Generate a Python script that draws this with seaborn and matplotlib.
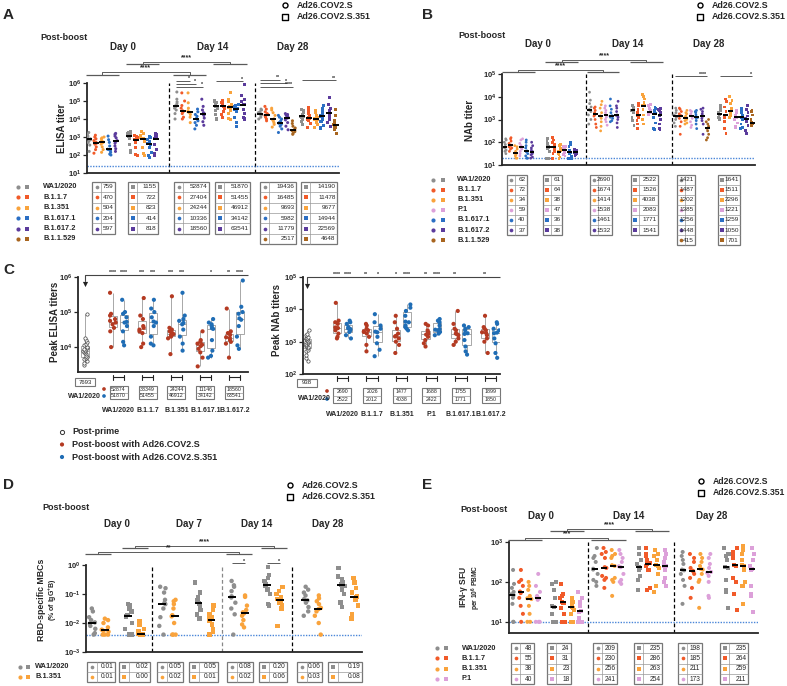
import numpy as np
import pandas as pd
import matplotlib.pyplot as plt
import seaborn as sns
from matplotlib.patches import Rectangle
from matplotlib.ticker import LogLocator, LogFormatterMathtext, NullLocator

# ---------------- data: log10 values per animal, one list per variant ----------------
variants_a = ['WA1/2020', 'B.1.1.7', 'B.1.351', 'B.1.617.1', 'B.1.617.2', 'B.1.1.529']
variants_b = ['WA1/2020', 'B.1.1.7', 'B.1.351', 'P.1', 'B.1.617.1', 'B.1.617.2', 'B.1.1.529']
variants_d = ['WA1/2020', 'B.1.351']
variants_e = ['WA1/2020', 'B.1.1.7', 'B.1.351', 'P.1']

# A: ELISA titers
elisa_d0_S = [[2.2, 2.55, 2.7, 2.8, 2.85, 2.9, 2.95, 3.05, 3.15, 3.25],
              [2.1, 2.3, 2.45, 2.6, 2.65, 2.7, 2.8, 2.9, 3.0, 3.1],
              [2.15, 2.3, 2.45, 2.6, 2.68, 2.72, 2.8, 2.9, 2.95, 3.0],
              [2.0, 2.05, 2.15, 2.25, 2.3, 2.32, 2.5, 2.7, 2.85, 3.05],
              [2.2, 2.35, 2.5, 2.65, 2.75, 2.8, 2.95, 3.05, 3.15, 3.2]]
elisa_d0_S351 = [[2.15, 2.25, 2.6, 2.9, 3.05, 3.08, 3.15, 3.2, 3.25, 3.3],
                 [1.95, 2.05, 2.4, 2.7, 2.85, 2.87, 2.95, 3.0, 3.05, 3.1],
                 [1.95, 2.1, 2.4, 2.75, 2.9, 2.93, 3.0, 3.1, 3.2, 3.28],
                 [1.85, 1.95, 2.15, 2.4, 2.6, 2.64, 2.75, 2.85, 2.95, 3.05],
                 [1.95, 2.1, 2.3, 2.6, 2.9, 2.92, 3.0, 3.1, 3.15, 3.2]]
elisa_d14_S = [[4.0, 4.3, 4.5, 4.6, 4.7, 4.74, 4.85, 4.95, 5.1, 5.5],
               [4.0, 4.1, 4.3, 4.4, 4.42, 4.46, 4.6, 4.75, 5.0, 5.45],
               [3.8, 4.1, 4.25, 4.35, 4.37, 4.4, 4.45, 4.6, 4.9, 5.45],
               [3.45, 3.65, 3.8, 3.9, 4.0, 4.03, 4.15, 4.25, 4.4, 4.55],
               [3.65, 3.85, 4.05, 4.2, 4.25, 4.29, 4.35, 4.5, 4.7, 5.1]]
elisa_d14_S351 = [[4.0, 4.25, 4.45, 4.6, 4.7, 4.72, 4.8, 4.9, 5.0, 5.05],
                  [4.1, 4.25, 4.4, 4.6, 4.7, 4.72, 4.8, 4.9, 4.95, 5.0],
                  [3.95, 4.05, 4.3, 4.5, 4.65, 4.69, 4.8, 4.95, 5.1, 5.45],
                  [3.6, 3.8, 4.1, 4.4, 4.52, 4.54, 4.6, 4.7, 4.75, 4.8],
                  [4.0, 4.1, 4.3, 4.55, 4.78, 4.82, 4.95, 5.1, 5.3, 5.9]]
elisa_d28_S = [[4.0, 4.1, 4.2, 4.25, 4.28, 4.3, 4.35, 4.4, 4.5, 4.55],
               [3.9, 4.0, 4.1, 4.15, 4.2, 4.24, 4.3, 4.4, 4.55, 4.7],
               [3.55, 3.7, 3.8, 3.9, 3.97, 4.01, 4.2, 4.35, 4.5, 4.6],
               [3.25, 3.45, 3.6, 3.7, 3.76, 3.8, 3.9, 4.0, 4.1, 4.2],
               [3.4, 3.6, 3.8, 3.95, 4.05, 4.09, 4.15, 4.2, 4.25, 4.3],
               [3.15, 3.2, 3.3, 3.35, 3.38, 3.42, 3.5, 3.6, 3.75, 3.9]]
elisa_d28_S351 = [[3.7, 3.85, 3.95, 4.1, 4.14, 4.16, 4.25, 4.35, 4.45, 4.55],
                  [3.55, 3.75, 3.9, 4.0, 4.05, 4.07, 4.2, 4.3, 4.5, 4.65],
                  [3.55, 3.7, 3.8, 3.9, 3.98, 4.0, 4.1, 4.2, 4.35, 4.45],
                  [3.5, 3.65, 3.85, 4.0, 4.15, 4.19, 4.3, 4.45, 4.6, 4.75],
                  [3.6, 3.8, 4.0, 4.2, 4.33, 4.37, 4.45, 4.6, 4.8, 5.2],
                  [3.2, 3.4, 3.55, 3.6, 3.65, 3.69, 3.75, 3.9, 4.2, 4.55]]
elisa_tab = [[759, 470, 504, 204, 597], [1155, 722, 823, 414, 818],
             [52874, 27404, 24244, 10336, 18560], [51870, 51455, 46912, 34142, 63541],
             [19436, 16485, 9693, 5982, 11779, 2517], [14190, 11478, 9677, 14944, 22569, 4648]]

# B: NAb titers
nab_d0_S = [[1.5, 1.6, 1.65, 1.75, 1.78, 1.8, 1.9, 2.0, 2.1, 2.15],
            [1.6, 1.7, 1.75, 1.8, 1.85, 1.87, 1.95, 2.05, 2.15, 2.2],
            [1.3, 1.3, 1.4, 1.45, 1.52, 1.54, 1.6, 1.7, 1.8, 1.85],
            [1.4, 1.5, 1.6, 1.7, 1.76, 1.78, 1.85, 1.95, 2.1, 2.15],
            [1.3, 1.3, 1.4, 1.5, 1.58, 1.62, 1.75, 1.85, 2.0, 2.1],
            [1.3, 1.35, 1.45, 1.5, 1.55, 1.59, 1.65, 1.75, 1.85, 2.0]]
nab_d0_S351 = [[1.3, 1.3, 1.6, 1.7, 1.78, 1.8, 1.85, 1.95, 2.05, 2.15],
               [1.3, 1.5, 1.6, 1.7, 1.8, 1.82, 1.9, 2.0, 2.1, 2.2],
               [1.3, 1.35, 1.45, 1.5, 1.57, 1.59, 1.65, 1.75, 1.85, 1.9],
               [1.4, 1.45, 1.55, 1.6, 1.66, 1.68, 1.7, 1.75, 1.8, 1.8],
               [1.3, 1.3, 1.4, 1.5, 1.55, 1.57, 1.65, 1.8, 1.9, 2.0],
               [1.4, 1.45, 1.5, 1.55, 1.57, 1.59, 1.6, 1.62, 1.65, 1.7]]
nab_d14_S = [[2.8, 3.0, 3.2, 3.35, 3.42, 3.44, 3.55, 3.7, 3.85, 4.2],
             [2.65, 2.8, 3.0, 3.15, 3.21, 3.23, 3.3, 3.4, 3.5, 3.55],
             [2.5, 2.7, 2.9, 3.05, 3.14, 3.16, 3.3, 3.5, 3.65, 3.8],
             [2.75, 2.9, 3.0, 3.1, 3.18, 3.2, 3.3, 3.4, 3.5, 3.6],
             [2.9, 2.95, 3.05, 3.1, 3.15, 3.17, 3.3, 3.45, 3.6, 3.9],
             [2.65, 2.85, 3.0, 3.1, 3.18, 3.2, 3.35, 3.5, 3.6, 3.8]]
nab_d14_S351 = [[2.75, 2.95, 3.1, 3.3, 3.39, 3.41, 3.45, 3.5, 3.55, 3.6],
                [2.6, 2.8, 2.95, 3.1, 3.17, 3.19, 3.3, 3.45, 3.6, 3.7],
                [2.8, 3.0, 3.2, 3.45, 3.6, 3.62, 3.75, 3.9, 4.0, 4.1],
                [3.2, 3.25, 3.28, 3.3, 3.31, 3.33, 3.4, 3.5, 3.6, 3.65],
                [2.55, 2.6, 2.85, 3.1, 3.24, 3.26, 3.35, 3.4, 3.5, 3.55],
                [2.55, 2.6, 2.8, 3.0, 3.18, 3.2, 3.3, 3.4, 3.45, 3.5]]
nab_d28_S = [[2.7, 2.85, 3.0, 3.1, 3.14, 3.16, 3.2, 3.3, 3.4, 3.5],
             [2.35, 2.7, 2.9, 3.05, 3.16, 3.18, 3.25, 3.35, 3.45, 3.5],
             [2.8, 2.85, 2.95, 3.0, 3.07, 3.09, 3.15, 3.25, 3.3, 3.4],
             [2.65, 2.75, 2.9, 3.05, 3.13, 3.15, 3.2, 3.25, 3.35, 3.4],
             [2.6, 2.8, 2.95, 3.05, 3.09, 3.11, 3.2, 3.3, 3.35, 3.4],
             [2.35, 2.8, 2.95, 3.05, 3.15, 3.17, 3.25, 3.35, 3.45, 3.5],
             [2.1, 2.2, 2.35, 2.5, 2.61, 2.63, 2.7, 2.8, 2.9, 3.0]]
nab_d28_S351 = [[3.0, 3.05, 3.1, 3.15, 3.2, 3.24, 3.3, 3.4, 3.5, 3.6],
                [2.4, 2.6, 2.9, 3.1, 3.17, 3.19, 3.35, 3.55, 3.8, 3.9],
                [3.1, 3.15, 3.2, 3.3, 3.35, 3.37, 3.5, 3.7, 3.85, 4.0],
                [2.65, 2.7, 2.85, 3.0, 3.08, 3.1, 3.2, 3.3, 3.35, 3.4],
                [2.6, 2.65, 2.8, 3.0, 3.09, 3.11, 3.2, 3.3, 3.4, 3.5],
                [2.4, 2.5, 2.75, 2.9, 3.0, 3.04, 3.15, 3.3, 3.45, 3.6],
                [2.75, 2.78, 2.8, 2.82, 2.84, 2.86, 3.0, 3.2, 3.35, 3.4]]
nab_tab = [[62, 72, 34, 59, 40, 37], [61, 64, 38, 47, 36, 38],
           [2690, 1674, 1414, 1538, 1461, 1532], [2522, 1526, 4038, 2083, 1771, 1541],
           [1421, 1487, 1202, 1385, 1256, 1448, 415], [1641, 1511, 2296, 1221, 1259, 1050, 701]]

# C: peak titers (post-prime, post-boost S, post-boost S.351)
peak_elisa_names = ['WA1/2020', 'B.1.1.7', 'B.1.351', 'B.1.617.1', 'B.1.617.2']
peak_elisa_prime = [3.5, 3.55, 3.6, 3.65, 3.7, 3.72, 3.75, 3.8, 3.82, 3.85, 3.88,
                    3.9, 3.92, 3.95, 3.98, 4.0, 4.05, 4.1, 4.15, 4.2, 4.25, 4.95]
peak_elisa_S = [[4.0, 4.45, 4.55, 4.65, 4.7, 4.75, 4.8, 4.9, 4.95, 5.55],
                [4.0, 4.1, 4.4, 4.45, 4.5, 4.55, 4.6, 4.8, 4.9, 5.4],
                [3.8, 4.25, 4.3, 4.35, 4.37, 4.4, 4.45, 4.5, 4.55, 5.45],
                [3.45, 3.7, 3.85, 3.95, 4.03, 4.07, 4.1, 4.15, 4.2, 4.45],
                [3.7, 4.1, 4.15, 4.2, 4.26, 4.28, 4.35, 4.4, 4.45, 5.1]]
peak_elisa_S351 = [[4.05, 4.15, 4.45, 4.6, 4.7, 4.72, 4.85, 4.95, 5.0, 5.35],
                   [4.05, 4.1, 4.3, 4.6, 4.7, 4.73, 4.85, 5.0, 5.1, 5.35],
                   [3.9, 4.1, 4.3, 4.5, 4.65, 4.69, 4.75, 4.8, 4.9, 5.55],
                   [3.7, 3.75, 3.9, 4.2, 4.52, 4.54, 4.6, 4.65, 4.7, 4.8],
                   [3.95, 4.05, 4.3, 4.6, 4.78, 4.82, 4.95, 5.0, 5.15, 5.9]]
peak_elisa_tab_S = [52874, 33349, 24244, 11146, 18560]
peak_elisa_tab_S351 = [51870, 51455, 46912, 34142, 63541]
peak_elisa_tab_prime = 7693
peak_elisa_stars = [('****', '****'), ('***', '***'), ('***', '***'), ('', '*'), ('**', '****')]

peak_nab_names = ['WA1/2020', 'B.1.1.7', 'B.1.351', 'P.1', 'B.1.617.1', 'B.1.617.2']
peak_nab_prime = [2.4, 2.5, 2.6, 2.7, 2.75, 2.8, 2.85, 2.88, 2.9, 2.93, 2.95,
                  2.98, 3.0, 3.03, 3.05, 3.08, 3.1, 3.12, 3.15, 3.2, 3.25, 3.35]
peak_nab_S = [[3.1, 3.15, 3.25, 3.35, 3.42, 3.44, 3.55, 3.6, 3.65, 4.2],
              [2.7, 2.9, 3.15, 3.25, 3.3, 3.32, 3.35, 3.4, 3.5, 3.55],
              [2.65, 2.9, 3.0, 3.1, 3.16, 3.18, 3.25, 3.4, 3.6, 3.8],
              [2.85, 2.95, 3.05, 3.15, 3.22, 3.24, 3.3, 3.35, 3.5, 3.55],
              [2.9, 3.0, 3.1, 3.2, 3.23, 3.25, 3.35, 3.4, 3.55, 3.95],
              [2.65, 3.0, 3.1, 3.2, 3.27, 3.29, 3.35, 3.4, 3.45, 3.8]]
peak_nab_S351 = [[3.1, 3.2, 3.3, 3.35, 3.39, 3.41, 3.45, 3.55, 3.6, 3.65],
                 [2.55, 2.75, 2.95, 3.15, 3.29, 3.31, 3.4, 3.5, 3.6, 3.85],
                 [3.35, 3.4, 3.45, 3.5, 3.6, 3.62, 3.8, 3.95, 4.05, 4.15],
                 [3.2, 3.25, 3.3, 3.35, 3.37, 3.39, 3.5, 3.6, 3.65, 3.7],
                 [2.6, 2.7, 2.85, 3.05, 3.24, 3.26, 3.35, 3.4, 3.45, 3.5],
                 [2.5, 2.65, 2.95, 3.1, 3.26, 3.28, 3.35, 3.4, 3.55, 3.6]]
peak_nab_tab_S = [2690, 2026, 1477, 1688, 1755, 1899]
peak_nab_tab_S351 = [2522, 2012, 4038, 2422, 1771, 1850]
peak_nab_tab_prime = 938
peak_nab_stars = [('****', '****'), ('**', '*'), ('*', '****'), ('**', '****'), ('**', ''), ('**', '')]

# D: RBD-specific memory B cells (% of IgG+ B), log10
mbc_d0_S = [[-2.4, -2.35, -2.2, -2.1, -2.02, -1.98, -1.9, -1.8, -1.6, -1.5],
            [-2.4, -2.4, -2.4, -2.3, -2.27, -2.23, -2.15, -2.0, -1.9, -1.85]]
mbc_d0_S351 = [[-2.4, -2.4, -2.2, -2.0, -1.77, -1.73, -1.6, -1.5, -1.4, -1.35],
               [-2.4, -2.4, -2.4, -2.4, -2.38, -2.36, -2.3, -2.2, -2.05, -1.95]]
mbc_d7_S = [[-2.4, -2.1, -1.8, -1.5, -1.35, -1.31, -1.2, -0.95, -0.8, -0.75],
            [-2.4, -2.4, -2.4, -2.0, -1.77, -1.73, -1.5, -1.35, -1.25, -1.2]]
mbc_d7_S351 = [[-1.85, -1.7, -1.55, -1.4, -1.32, -1.28, -1.2, -1.1, -0.95, -0.6],
               [-2.4, -2.3, -2.2, -2.05, -1.92, -1.88, -1.8, -1.7, -1.55, -1.4]]
mbc_d14_S = [[-2.4, -1.7, -1.5, -1.3, -1.12, -1.08, -0.9, -0.75, -0.7, -0.55],
             [-2.15, -2.05, -1.9, -1.75, -1.67, -1.63, -1.55, -1.4, -1.1, -1.05]]
mbc_d14_S351 = [[-1.4, -1.35, -1.0, -0.85, -0.72, -0.68, -0.55, -0.45, -0.35, -0.05],
                [-2.1, -1.5, -1.4, -1.3, -1.22, -1.18, -1.1, -1.0, -0.9, -0.75]]
mbc_d28_S = [[-1.75, -1.6, -1.45, -1.3, -1.22, -1.18, -1.05, -0.95, -0.85, -0.75],
             [-2.4, -2.0, -1.75, -1.6, -1.52, -1.48, -1.35, -1.25, -1.15, -1.05]]
mbc_d28_S351 = [[-1.45, -1.3, -1.0, -0.85, -0.72, -0.68, -0.6, -0.5, -0.4, -0.1],
                [-1.85, -1.7, -1.4, -1.2, -1.12, -1.08, -0.95, -0.8, -0.6, -0.45]]
mbc_tab = [['0.01', '0.01'], ['0.02', '0.00'], ['0.05', '0.02'], ['0.05', '0.01'],
           ['0.08', '0.02'], ['0.20', '0.06'], ['0.06', '0.03'], ['0.19', '0.08']]

# E: IFN-gamma ELISPOT, log10 SFU per 1e6 PBMC
sfu_d0_S = [[1.0, 1.0, 1.45, 1.6, 1.67, 1.69, 1.75, 1.85, 1.95, 2.3],
            [1.0, 1.2, 1.4, 1.6, 1.72, 1.76, 1.9, 2.0, 2.05, 2.3],
            [1.0, 1.0, 1.2, 1.4, 1.57, 1.59, 1.65, 1.8, 1.9, 2.0],
            [1.0, 1.0, 1.0, 1.55, 1.59, 1.61, 1.65, 1.75, 1.9, 2.2]]
sfu_d0_S351 = [[1.0, 1.0, 1.0, 1.2, 1.37, 1.39, 1.6, 1.8, 1.95, 2.0],
               [1.0, 1.0, 1.2, 1.35, 1.48, 1.5, 1.6, 1.65, 1.7, 1.95],
               [1.0, 1.0, 1.2, 1.3, 1.35, 1.37, 1.45, 1.5, 1.55, 1.6],
               [1.0, 1.0, 1.0, 1.1, 1.25, 1.27, 1.4, 1.5, 1.6, 1.75]]
sfu_d14_S = [[1.9, 2.0, 2.05, 2.2, 2.31, 2.33, 2.5, 2.6, 2.65, 2.85],
             [1.85, 2.05, 2.1, 2.15, 2.35, 2.37, 2.6, 2.7, 2.75, 2.85],
             [1.65, 2.0, 2.05, 2.1, 2.4, 2.42, 2.6, 2.65, 2.7, 2.8],
             [1.95, 2.0, 2.05, 2.2, 2.37, 2.39, 2.5, 2.6, 2.7, 2.8]]
sfu_d14_S351 = [[1.8, 2.05, 2.15, 2.3, 2.36, 2.38, 2.45, 2.55, 2.7, 2.85],
                [1.8, 1.85, 2.3, 2.4, 2.45, 2.47, 2.55, 2.65, 2.7, 2.85],
                [1.75, 1.9, 2.2, 2.35, 2.41, 2.43, 2.55, 2.65, 2.7, 2.8],
                [1.9, 2.0, 2.1, 2.3, 2.39, 2.41, 2.5, 2.6, 2.7, 2.8]]
sfu_d28_S = [[1.45, 1.9, 2.05, 2.2, 2.29, 2.31, 2.45, 2.55, 2.65, 2.75],
             [1.6, 1.85, 2.1, 2.2, 2.26, 2.28, 2.35, 2.5, 2.6, 2.7],
             [1.35, 2.0, 2.05, 2.2, 2.31, 2.33, 2.4, 2.5, 2.6, 2.7],
             [1.6, 1.65, 2.0, 2.15, 2.23, 2.25, 2.35, 2.45, 2.6, 2.7]]
sfu_d28_S351 = [[1.35, 1.75, 1.8, 2.05, 2.36, 2.38, 2.55, 2.65, 2.7, 2.85],
                [1.3, 1.7, 2.0, 2.1, 2.41, 2.43, 2.6, 2.7, 2.75, 2.85],
                [1.45, 1.9, 2.0, 2.3, 2.4, 2.42, 2.55, 2.7, 2.8, 2.9],
                [1.25, 1.65, 1.7, 1.9, 2.31, 2.33, 2.4, 2.55, 2.7, 2.85]]
sfu_tab = [[48, 55, 38, 40], [24, 31, 23, 18], [209, 230, 256, 241],
           [235, 286, 263, 254], [198, 185, 211, 173], [235, 264, 259, 211]]

pal = {'WA1/2020': '#8e8e8e', 'B.1.1.7': '#f15a29', 'B.1.351': '#f9a33c', 'P.1': '#dca0d9',
       'B.1.617.1': '#2b6fc4', 'B.1.617.2': '#5b3b9c', 'B.1.1.529': '#a8651f'}
boost_pal = {'S': '#b43a22', 'S351': '#1f6db5'}
LINE = '#5a5a5a'

# ---------------- figure ----------------
sns.set_style('ticks')
plt.rcParams['font.family'] = ['Liberation Sans', 'DejaVu Sans']
plt.rcParams['font.weight'] = 'bold'
plt.rcParams['mathtext.fontset'] = 'custom'
plt.rcParams['mathtext.rm'] = 'Liberation Sans:bold'
plt.rcParams['mathtext.it'] = 'Liberation Sans:bold'
plt.rcParams['mathtext.default'] = 'rm'
np.random.seed(3)

W, H = 787, 686
fig = plt.figure(figsize=(W / 100, H / 100), dpi=100)
ov = fig.add_axes([0, 0, 1, 1], zorder=10)
ov.set_xlim(0, W)
ov.set_ylim(H, 0)
ov.axis('off')


def make_ax(l, t, r, b):
    ax = fig.add_axes([l / W, 1 - b / H, (r - l) / W, (b - t) / H])
    ax.set_yscale('log')
    return ax


def style(ax, xlim, ylim):
    ax.set_xlim(*xlim)
    ax.set_ylim(*ylim)
    ax.yaxis.set_major_locator(LogLocator(base=10, numticks=10))
    ax.yaxis.set_major_formatter(LogFormatterMathtext())
    ax.yaxis.set_minor_locator(NullLocator())
    ax.set_xticks([])
    ax.set_xlabel('')
    ax.set_ylabel('')
    ax.spines[['top', 'right']].set_visible(False)
    ax.spines[['left', 'bottom']].set_linewidth(1.3)
    ax.tick_params(axis='y', labelsize=5.5, length=3, width=0.9, pad=1)
    ax.patch.set_alpha(0)


def px_x(ax, x):
    return ax.transData.transform((x, ax.get_ylim()[0]))[0]


def txt(x, y, s, size=6, ha='left', va='center', **kw):
    kw.setdefault('fontweight', 'bold')
    ov.text(x, y, s, fontsize=size, ha=ha, va=va, **kw)


def hl(x0, x1, y, color=LINE, lw=0.7):
    ov.plot([x0, x1], [y, y], color=color, lw=lw, solid_capstyle='butt')


def dot_panel(ax, names, blocks, starts, size, barw, jit):
    recs = []
    for (lists, mk), st in zip(blocks, starts):
        for i, vals in enumerate(lists):
            recs += [(st + i, 10 ** v, names[i], mk) for v in vals]
    df = pd.DataFrame(recs, columns=['pos', 'val', 'variant', 'mk'])
    for mk in ['o', 's']:
        sns.stripplot(data=df[df.mk == mk], x='pos', y='val', hue='variant', palette=pal,
                      native_scale=True, jitter=jit, size=size, marker=mk, linewidth=0,
                      legend=False, ax=ax, zorder=3)
    med = df.groupby('pos')['val'].apply(lambda s: 10 ** np.median(np.log10(s)))
    ax.hlines(med.values, med.index - barw, med.index + barw, color='k', lw=1.4, zorder=5)


def table(x0, x1, top, rh, nums, cols, mk, cell=8, size=4.6):
    n = len(nums)
    ov.add_patch(Rectangle((x0, top), x1 - x0, rh * n, fill=False, ec='#777', lw=0.9))
    ov.plot([x0 + cell] * 2, [top, top + rh * n], color='#999', lw=0.5)
    for i in range(1, n):
        hl(x0, x1, top + rh * i, '#999', 0.5)
    for i, (num, c) in enumerate(zip(nums, cols)):
        yc = top + rh * (i + 0.5)
        ov.scatter(x0 + cell / 2, yc, marker=mk, s=7, color=c, lw=0)
        ov.text(x1 - 1.5, yc, str(num), fontsize=size, ha='right', va='center', fontweight='normal')


def block_ext(st, n):
    return (st - 0.5, st + n - 0.5)


def bracket(ax, g1, g2, ybar, yconn, label):
    a = [px_x(ax, g) for g in g1]
    b = [px_x(ax, g) for g in g2]
    hl(a[0], a[1], ybar, LINE, 0.9)
    hl(b[0], b[1], ybar, LINE, 0.9)
    ca, cb = sum(a) / 2, sum(b) / 2
    ov.plot([ca, ca, cb, cb], [ybar, yconn, yconn, ybar], color=LINE, lw=0.7)
    txt((ca + cb) / 2, yconn - 0.3, label, size=5, ha='center', va='bottom')


def sigline(ax, xa, xb, y, label):
    x0, x1 = px_x(ax, xa), px_x(ax, xb)
    hl(x0, x1, y)
    txt(x1, y + 0.8, label, size=3.8, ha='right', va='bottom')


def vac_legend(x, y, size=6.4):
    ov.scatter(x, y, marker='o', s=13, facecolor='white', edgecolor='k', lw=1)
    ov.scatter(x, y + 11.5, marker='s', s=13, facecolor='white', edgecolor='k', lw=1)
    txt(x + 12, y, 'Ad26.COV2.S', size=size)
    txt(x + 12, y + 11.5, 'Ad26.COV2.S.351', size=size)


def row_legend(xc, xs, xt, y0, dy, names, size=5.3):
    for i, v in enumerate(names):
        y = y0 + dy * i
        ov.scatter(xc, y, marker='o', s=9, color=pal[v], lw=0)
        ov.scatter(xs, y, marker='s', s=9, color=pal[v], lw=0)
        txt(xt, y, v, size=size)


def lod_and_dashes(ax, lod, dashes, dash_cols=None):
    ax.axhline(lod, color='#4a86d8', ls=(0, (1, 1)), lw=1.0, zorder=2)
    for k, x in enumerate(dashes):
        c = dash_cols[k] if dash_cols else 'k'
        ax.axvline(x, color=c, ls=(0, (3, 2)), lw=0.9, zorder=1)


# ---------------- Panel A ----------------
axA = make_ax(87, 83, 339, 173)
starts_a = [0, 6, 13, 19, 25.5, 31.8]
blocks_a = [(elisa_d0_S, 'o'), (elisa_d0_S351, 's'), (elisa_d14_S, 'o'),
            (elisa_d14_S351, 's'), (elisa_d28_S, 'o'), (elisa_d28_S351, 's')]
dot_panel(axA, variants_a, blocks_a, starts_a, 2.2, 0.45, 0.28)
style(axA, (-0.3, 37.3), (10, 1e6))
lod_and_dashes(axA, 25, [11.9, 24.8])
a_tab_x = [(92, 115), (128, 158), (174, 209), (215, 250), (260, 296), (301, 337)]
for (x0, x1), nums, (_, mk) in zip(a_tab_x, elisa_tab, blocks_a):
    table(x0, x1, 181.8, 10.4, nums, [pal[v] for v in variants_a], mk, cell=9)
row_legend(18, 27, 43, 187, 10.4, variants_a)
ext_a = [block_ext(st, len(b[0])) for st, b in zip(starts_a, blocks_a)]
bracket(axA, ext_a[0], ext_a[2], 75, 72, '****')
bracket(axA, ext_a[1], ext_a[3], 64, 61.5, '****')
for k, y in zip([15, 16, 17], [80.5, 83.5, 86.5]):
    sigline(axA, 13, k, y, '*')
sigline(axA, 19, 23, 81, '*')
for k, y, lab in zip([28.5, 29.5, 30.5], [79.5, 83, 86.5], ['**', '*', '****']):
    sigline(axA, 25.5, k, y, lab)
sigline(axA, 31.8, 36.8, 80, '**')
txt(3, 15, 'A', size=11)
vac_legend(285, 5)
txt(40, 38, 'Post-boost', size=6.5)
for x, s in zip([123, 213, 293], ['Day 0', 'Day 14', 'Day 28']):
    txt(x, 47, s, size=7, ha='center')
txt(62, 128, 'ELISA titer', size=7, ha='center', rotation=90)

# ---------------- Panel B ----------------
axB = make_ax(502, 74, 755, 165)
starts_b = [0, 8, 15.7, 23.7, 31.5, 39.8]
blocks_b = [(nab_d0_S, 'o'), (nab_d0_S351, 's'), (nab_d14_S, 'o'),
            (nab_d14_S351, 's'), (nab_d28_S, 'o'), (nab_d28_S351, 's')]
dot_panel(axB, variants_b, blocks_b, starts_b, 2.0, 0.45, 0.26)
style(axB, (-0.55, 46.3), (10, 1e5))
lod_and_dashes(axB, 20, [15.0, 30.9])
b_tab_x = [(507, 527), (543, 562), (590, 612), (631, 658), (677, 695), (718, 740)]
for (x0, x1), nums, (_, mk) in zip(b_tab_x, nab_tab, blocks_b):
    table(x0, x1, 174.5, 10.1, nums, [pal[v] for v in variants_b], mk, cell=8)
row_legend(433, 443, 457, 179.5, 10.1, variants_b)
ext_b = [block_ext(st, len(b[0])) for st, b in zip(starts_b, blocks_b)]
bracket(axB, ext_b[0], ext_b[2], 72, 69.5, '****')
bracket(axB, ext_b[1], ext_b[3], 62, 59.5, '****')
sigline(axB, 31.5, 37.5, 76, '****')
sigline(axB, 39.8, 45.8, 76, '*')
txt(422, 15, 'B', size=11)
vac_legend(700, 5)
txt(458, 36, 'Post-boost', size=6.5)
for x, s in zip([538, 628, 709], ['Day 0', 'Day 14', 'Day 28']):
    txt(x, 44, s, size=7, ha='center')
txt(470, 120, 'NAb titer', size=7, ha='center', rotation=90)


# ---------------- Panel C ----------------
def peak_panel(ax, prime, red, blue, pp, xlim, ylim):
    recs = [(pp, 10 ** v, 'prime') for v in prime]
    for j, (r, b) in enumerate(zip(red, blue)):
        recs += [(j - 0.19, 10 ** v, 'S') for v in r]
        recs += [(j + 0.19, 10 ** v, 'S351') for v in b]
    df = pd.DataFrame(recs, columns=['pos', 'val', 'grp'])
    sns.boxplot(data=df, x='pos', y='val', native_scale=True, color='white', linecolor='#9a9a9a',
                linewidth=0.6, whis=(0, 100), showcaps=False, showfliers=False, width=0.75, ax=ax)
    sns.stripplot(data=df[df.grp != 'prime'], x='pos', y='val', hue='grp', palette=boost_pal,
                  native_scale=True, jitter=0.28, size=3, linewidth=0, legend=False, ax=ax, zorder=3)
    sns.stripplot(data=df[df.grp == 'prime'], x='pos', y='val', native_scale=True, jitter=0.07,
                  size=2.4, color='white', edgecolor='#444', linewidth=0.5, ax=ax, zorder=3)
    style(ax, xlim, ylim)


def peak_decor(ax, names, tab_s, tab_351, tab_pp, stars, pp, ytop, yarrow, ybr, ytab, rh, ylab):
    x_end = ax.get_position().x1 * W
    xp = px_x(ax, pp)
    hl(xp, x_end, ytop, '#444', 0.8)
    ov.plot([xp, xp], [ytop, yarrow - 3], color='#444', lw=0.8)
    ov.scatter(xp, yarrow, marker='v', s=14, color='#222', lw=0)
    for j, (n, a, b, (sa, sb)) in enumerate(zip(names, tab_s, tab_351, stars)):
        xa, xb, xc = px_x(ax, j - 0.19), px_x(ax, j + 0.19), px_x(ax, j)
        txt(xa, ytop - 0.5, sa, size=3.8, ha='center', va='bottom')
        txt(xb, ytop - 0.5, sb, size=3.8, ha='center', va='bottom')
        hl(xa, xb, ybr, '#222', 0.8)
        for xx in (xa, xb):
            ov.plot([xx, xx], [ybr - 2.5, ybr + 2.5], color='#222', lw=0.8)
        ov.add_patch(Rectangle((xc - 9, ytab), 18, 2 * rh, fill=False, ec='#777', lw=0.8))
        hl(xc - 9, xc + 9, ytab + rh, '#999', 0.5)
        ov.text(xc, ytab + rh * 0.5, str(a), fontsize=3.8, ha='center', va='center', fontweight='normal')
        ov.text(xc, ytab + rh * 1.5, str(b), fontsize=3.8, ha='center', va='center', fontweight='normal')
        txt(xc, ylab, n, size=5, ha='center')
    ov.add_patch(Rectangle((xp - 10, ybr + 1), 20, 8, fill=False, ec='#777', lw=0.8))
    ov.text(xp, ybr + 5, str(tab_pp), fontsize=4.3, ha='center', va='center', fontweight='normal')


axCL = make_ax(78, 277, 248, 372)
peak_panel(axCL, peak_elisa_prime, peak_elisa_S, peak_elisa_S351, -1.15, (-1.4, 4.47), (10 ** 3.29, 1e6))
peak_decor(axCL, peak_elisa_names, peak_elisa_tab_S, peak_elisa_tab_S351, peak_elisa_tab_prime,
           peak_elisa_stars, -1.15, 275, 284, 377, 386, 6.6, 410)
txt(84, 397, 'WA1/2020', size=5, ha='center')
ov.scatter([104, 104], [389, 396], s=7, color=[boost_pal['S'], boost_pal['S351']], lw=0)
txt(55, 322, 'Peak ELISA titers', size=7, ha='center', rotation=90)

axCR = make_ax(303, 277, 500, 374)
peak_panel(axCR, peak_nab_prime, peak_nab_S, peak_nab_S351, -1.2, (-1.33, 5.32), (100, 1e5))
peak_decor(axCR, peak_nab_names, peak_nab_tab_S, peak_nab_tab_S351, peak_nab_tab_prime,
           peak_nab_stars, -1.2, 277, 286, 378, 388, 7.5, 414)
txt(314, 398, 'WA1/2020', size=5, ha='center')
ov.scatter([327, 327], [391, 399], s=7, color=[boost_pal['S'], boost_pal['S351']], lw=0)
txt(277, 320, 'Peak NAb titers', size=7, ha='center', rotation=90)

txt(3, 270, 'C', size=11)
ov.scatter(62, 432, marker='o', s=9, facecolor='white', edgecolor='#333', lw=0.7)
ov.scatter([62, 62], [444.5, 457], s=9, color=[boost_pal['S'], boost_pal['S351']], lw=0)
txt(72, 432, 'Post-prime', size=6.5)
txt(72, 444.5, 'Post-boost with Ad26.COV2.S', size=6.5)
txt(72, 457, 'Post-boost with Ad26.COV2.S.351', size=6.5)

# ---------------- Panel D ----------------
axD = make_ax(86, 565, 362, 652)
starts_d = [0, 2.8, 5.4, 8.2, 10.8, 13.5, 16.4, 19.2]
blocks_d = [(mbc_d0_S, 'o'), (mbc_d0_S351, 's'), (mbc_d7_S, 'o'), (mbc_d7_S351, 's'),
            (mbc_d14_S, 'o'), (mbc_d14_S351, 's'), (mbc_d28_S, 'o'), (mbc_d28_S351, 's')]
dot_panel(axD, variants_d, blocks_d, starts_d, 3.2, 0.3, 0.28)
style(axD, (-0.46, 20.8), (1e-3, 1))
lod_and_dashes(axD, 0.004, [4.6, 10.0, 15.4], ['k', '#888', 'k'])
d_tab_x = [(87, 115), (119, 150), (157, 183), (189, 218), (227, 253), (259, 287), (297, 322), (328, 362)]
for (x0, x1), nums, (_, mk) in zip(d_tab_x, mbc_tab, blocks_d):
    table(x0, x1, 662, 10, nums, [pal[v] for v in variants_d], mk, cell=10, size=4.8)
row_legend(20, 28, 35, 667, 10, variants_d)
ext_d = [block_ext(st, 2) for st in starts_d]
bracket(axD, ext_d[1], ext_d[5], 548, 545.5, '****')
bracket(axD, ext_d[0], ext_d[4], 554, 551.5, '**')
sigline(axD, 10.8, 11.8, 563, '*')
sigline(axD, 13.5, 14.5, 563, '*')
txt(3, 485, 'D', size=11)
vac_legend(290, 485)
txt(42, 508, 'Post-boost', size=6.5)
for x, s in zip([117, 189, 257, 328], ['Day 0', 'Day 7', 'Day 14', 'Day 28']):
    txt(x, 524, s, size=7, ha='center')
txt(42, 600, 'RBD-specific MBCs', size=6.3, ha='center', rotation=90)
txt(52.5, 600, '(% of IgG$^{+}$B)', size=5, ha='center', rotation=90)

# ---------------- Panel E ----------------
axE = make_ax(509, 542, 758, 633)
starts_e = [0, 4.9, 9.7, 14.8, 19.9, 24.9]
blocks_e = [(sfu_d0_S, 'o'), (sfu_d0_S351, 's'), (sfu_d14_S, 'o'),
            (sfu_d14_S351, 's'), (sfu_d28_S, 'o'), (sfu_d28_S351, 's')]
dot_panel(axE, variants_e, blocks_e, starts_e, 2.9, 0.35, 0.28)
style(axE, (-0.35, 28.6), (10 ** 0.72, 1e3))
lod_and_dashes(axE, 10, [8.8, 18.8])
e_tab_x = [(511, 534), (547, 571), (593, 617), (634, 662), (678, 702), (720, 748)]
for (x0, x1), nums, (_, mk) in zip(e_tab_x, sfu_tab, blocks_e):
    table(x0, x1, 643, 10.3, nums, [pal[v] for v in variants_e], mk, cell=9, size=4.8)
row_legend(437, 446, 462, 648, 10.3, variants_e)
ext_e = [block_ext(st, 4) for st in starts_e]
bracket(axE, ext_e[1], ext_e[3], 531, 528.5, '****')
bracket(axE, ext_e[0], ext_e[2], 540, 537.5, '***')
txt(422, 485, 'E', size=11)
vac_legend(701, 481, size=6.2)
txt(460, 509, 'Post-boost', size=6.5)
for x, s in zip([541, 629, 712], ['Day 0', 'Day 14', 'Day 28']):
    txt(x, 516, s, size=7, ha='center')
txt(463.5, 587, 'IFN-$\\gamma$ SFU', size=6.2, ha='center', rotation=90)
txt(476, 587, 'per 10$^{6}$ PBMC', size=4.8, ha='center', rotation=90)

plt.savefig('out.png', dpi=100)
